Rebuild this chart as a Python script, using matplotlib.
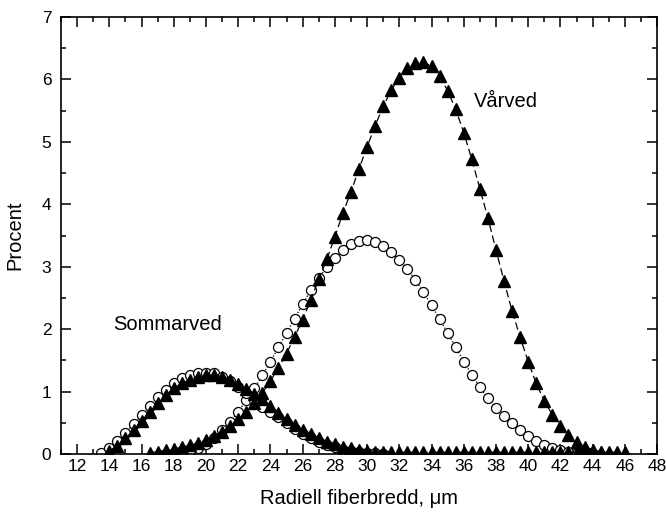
import matplotlib

matplotlib.use("Agg")
import matplotlib.pyplot as plt
import numpy as np
from matplotlib.ticker import MultipleLocator

plt.rcParams["font.family"] = ["Liberation Sans", "DejaVu Sans"]

# Sommarved, open circles (x from 13.5 step 0.5)
som_circ_x = np.arange(13.5, 31.01, 0.5)
som_circ_y = [0.01, 0.09, 0.21, 0.34, 0.48, 0.62, 0.77, 0.91, 1.03, 1.13,
              1.21, 1.26, 1.29, 1.30, 1.29, 1.24, 1.17, 1.08, 0.97, 0.86,
              0.76, 0.68, 0.59, 0.49, 0.40, 0.32, 0.25, 0.20, 0.14, 0.11,
              0.07, 0.05, 0.03, 0.02, 0.01, 0.0]

# Sommarved, filled triangles (x from 14 step 0.5)
som_tri_x = np.arange(14.0, 46.01, 0.5)
som_tri_y = [0.05, 0.13, 0.25, 0.38, 0.53, 0.67, 0.81, 0.94, 1.05, 1.13,
             1.19, 1.24, 1.26, 1.27, 1.24, 1.19, 1.12, 1.04, 0.96, 0.88,
             0.77, 0.66, 0.56, 0.47, 0.39, 0.32, 0.26, 0.20, 0.16, 0.12,
             0.09, 0.07, 0.05, 0.04, 0.04, 0.03, 0.03, 0.03, 0.03, 0.03,
             0.03, 0.03, 0.03, 0.03, 0.03, 0.03, 0.03, 0.03, 0.03, 0.03,
             0.03, 0.03, 0.03, 0.03, 0.03, 0.03, 0.03, 0.03, 0.03, 0.03,
             0.03, 0.03, 0.03, 0.03, 0.03]

# Vårved, open circles (x from 17.5 step 0.5)
var_circ_x = np.arange(17.5, 43.51, 0.5)
var_circ_y = [0.0, 0.01, 0.02, 0.05, 0.09, 0.16, 0.26, 0.38, 0.52, 0.68,
              0.86, 1.05, 1.26, 1.48, 1.71, 1.94, 2.17, 2.40, 2.62, 2.82,
              2.99, 3.14, 3.27, 3.36, 3.41, 3.43, 3.40, 3.33, 3.23, 3.11,
              2.96, 2.79, 2.59, 2.38, 2.16, 1.94, 1.71, 1.48, 1.27, 1.07,
              0.89, 0.74, 0.61, 0.49, 0.38, 0.29, 0.21, 0.15, 0.10, 0.06,
              0.04, 0.02, 0.01]

# Vårved, filled triangles (x from 16.5 step 0.5)
var_tri_x = np.arange(16.5, 45.51, 0.5)
var_tri_y = [0.02, 0.04, 0.06, 0.08, 0.11, 0.14, 0.18, 0.23, 0.29, 0.36,
             0.45, 0.56, 0.68, 0.82, 0.98, 1.17, 1.38, 1.61, 1.88, 2.15,
             2.47, 2.80, 3.12, 3.48, 3.86, 4.20, 4.57, 4.92, 5.26, 5.57,
             5.83, 6.03, 6.18, 6.27, 6.28, 6.21, 6.05, 5.82, 5.52, 5.15,
             4.72, 4.25, 3.78, 3.27, 2.77, 2.29, 1.87, 1.48, 1.13, 0.85,
             0.63, 0.45, 0.31, 0.20, 0.12, 0.07, 0.04, 0.02, 0.01]

fig = plt.figure(figsize=(6.66, 5.19), dpi=100)
ax = fig.add_axes([0.0916, 0.1252, 0.895, 0.842])

circ_kw = dict(marker="o", ms=7.2, mfc="white", mec="black", mew=0.9,
               color="black", lw=0.9, ls=(0, (1, 1.5)))
tri_kw = dict(marker="^", ms=8, mfc="black", mec="black",
              color="black", lw=0.9, ls=(0, (6, 3)))

ax.plot(var_circ_x, var_circ_y, **circ_kw)
ax.plot(som_circ_x, som_circ_y, **circ_kw)
ax.plot(var_tri_x, var_tri_y, **tri_kw)
ax.plot(som_tri_x, som_tri_y, **tri_kw)

ax.set_xlim(11, 48)
ax.set_ylim(0, 7)
ax.xaxis.set_minor_locator(MultipleLocator(1))
ax.yaxis.set_major_locator(MultipleLocator(1))
ax.yaxis.set_minor_locator(MultipleLocator(0.5))
ax.set_xticks(np.arange(12, 49, 2))
ax.tick_params(which="both", direction="in", top=True, right=True,
               width=1.1, labelsize=12.5)
ax.tick_params(which="major", length=7)
ax.tick_params(which="minor", length=3.5)
ax.tick_params(axis="y", pad=7)
for sp in ax.spines.values():
    sp.set_linewidth(1.2)

ax.set_xlabel("Radiell fiberbredd, \u03bcm", fontsize=14.5, labelpad=11)
ax.set_ylabel("Procent", fontsize=14.5, labelpad=12)

ax.text(17.6, 2.08, "Sommarved", fontsize=14.5, ha="center", va="center")
ax.text(38.6, 5.65, "V\u00e5rved", fontsize=14.5, ha="center", va="center")

fig.savefig("out.png", dpi=100)
